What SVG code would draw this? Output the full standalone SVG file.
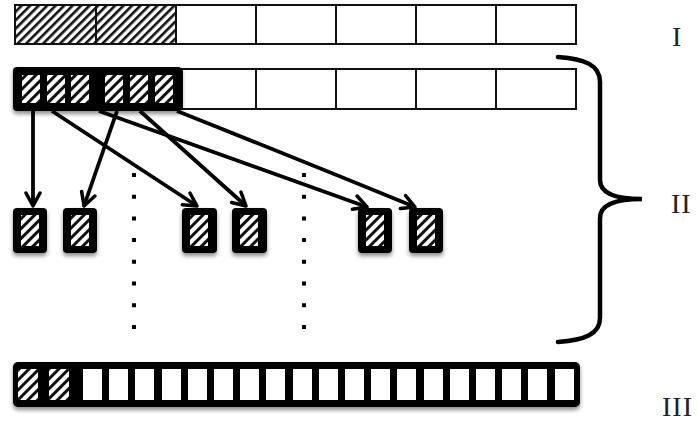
<svg xmlns="http://www.w3.org/2000/svg" width="698" height="423" viewBox="0 0 698 423">
  <defs>
    <!-- wide diagonal hatch for the large cells -->
    <pattern id="hatchWide" patternUnits="userSpaceOnUse" width="6" height="6" patternTransform="rotate(45)">
      <rect x="0" y="0" width="6" height="6" fill="#fff"/>
      <rect x="0" y="0" width="2.6" height="6" fill="#111"/>
    </pattern>
    <!-- coarser hatch for the small cells -->
    <pattern id="hatchSmall" patternUnits="userSpaceOnUse" width="7" height="7" patternTransform="rotate(45)">
      <rect x="0" y="0" width="7" height="7" fill="#fff"/>
      <rect x="0" y="0" width="3" height="7" fill="#111"/>
    </pattern>
    <filter id="shadow" x="-20%" y="-20%" width="140%" height="160%">
      <feDropShadow dx="0" dy="3" stdDeviation="2" flood-color="#000" flood-opacity="0.45"/>
    </filter>
    <marker id="head" viewBox="0 0 18 18" refX="15" refY="9" markerWidth="18" markerHeight="18" markerUnits="userSpaceOnUse" orient="auto">
      <path d="M2,2 L15,9 L2,16" fill="none" stroke="#000" stroke-width="3.5" stroke-linecap="round" stroke-linejoin="round"/>
    </marker>
    <style>
      .cell { fill: #fff; stroke: #111; stroke-width: 2; }
      .hw { fill: url(#hatchWide); stroke: #111; stroke-width: 2; }
      .blk { fill: #000; filter: url(#shadow); }
      .hs { fill: url(#hatchSmall); }
      .wh { fill: #fff; }
      .arrow { fill: none; stroke: #000; stroke-width: 3.8; marker-end: url(#head); }
      .dots { fill: none; stroke: #000; stroke-width: 4; stroke-dasharray: 4 17.7; }
      .brace { fill: none; stroke: #000; stroke-width: 4.5; stroke-linecap: round; }
      .lbl { font-family: "Liberation Serif", "Times New Roman", serif; font-size: 28px; fill: #222; letter-spacing: 1px; }
    </style>
  </defs>

  <!-- Row I: seven wide cells, first two hatched -->
  <g id="row1">
    <rect class="hw" x="15" y="5" width="81" height="39"/>
    <rect class="hw" x="96" y="5" width="80" height="39"/>
    <rect class="cell" x="176" y="5" width="80" height="39"/>
    <rect class="cell" x="256" y="5" width="80" height="39"/>
    <rect class="cell" x="336" y="5" width="80" height="39"/>
    <rect class="cell" x="416" y="5" width="80" height="39"/>
    <rect class="cell" x="496" y="5" width="80" height="39"/>
  </g>

  <!-- Row II: split block of six small cells followed by plain cells -->
  <g id="row2">
    <rect class="cell" x="182" y="69" width="74" height="40"/>
    <rect class="cell" x="256" y="69" width="80" height="40"/>
    <rect class="cell" x="336" y="69" width="80" height="40"/>
    <rect class="cell" x="416" y="69" width="80" height="40"/>
    <rect class="cell" x="496" y="69" width="80" height="40"/>
    <rect class="blk" x="13" y="67" width="169" height="44" rx="4"/>
    <rect class="hs" x="22" y="75" width="18" height="28"/>
    <rect class="hs" x="47" y="75" width="18" height="28"/>
    <rect class="hs" x="71" y="75" width="18" height="28"/>
    <rect class="hs" x="105" y="75" width="18" height="28"/>
    <rect class="hs" x="130" y="75" width="18" height="28"/>
    <rect class="hs" x="155" y="75" width="18" height="28"/>
  </g>

  <!-- Scattered small cells -->
  <g id="s1"><rect class="blk" x="13" y="208" width="34" height="45" rx="4"/><rect class="hs" x="21" y="215" width="18" height="31"/></g>
  <g id="s2"><rect class="blk" x="63" y="208" width="34" height="45" rx="4"/><rect class="hs" x="71" y="215" width="18" height="31"/></g>
  <g id="s3"><rect class="blk" x="182" y="208" width="35" height="45" rx="4"/><rect class="hs" x="190" y="215" width="18" height="31"/></g>
  <g id="s4"><rect class="blk" x="232" y="208" width="35" height="45" rx="4"/><rect class="hs" x="240" y="215" width="18" height="31"/></g>
  <g id="s5"><rect class="blk" x="358" y="208" width="34" height="45" rx="4"/><rect class="hs" x="366" y="215" width="18" height="31"/></g>
  <g id="s6"><rect class="blk" x="409" y="208" width="34" height="45" rx="4"/><rect class="hs" x="417" y="215" width="18" height="31"/></g>

  <!-- Row III: merged block with two hatched and nineteen plain slots -->
  <g id="row3">
    <rect class="blk" x="13" y="362" width="567" height="45" rx="5"/>
    <rect class="hs" x="18" y="369" width="20" height="31"/>
    <rect class="hs" x="49" y="369" width="20" height="31"/>
    <rect class="wh" x="83" y="369" width="19" height="31"/>
    <rect class="wh" x="109" y="369" width="19" height="31"/>
    <rect class="wh" x="135" y="369" width="19" height="31"/>
    <rect class="wh" x="162" y="369" width="19" height="31"/>
    <rect class="wh" x="188" y="369" width="19" height="31"/>
    <rect class="wh" x="214" y="369" width="19" height="31"/>
    <rect class="wh" x="240" y="369" width="19" height="31"/>
    <rect class="wh" x="266" y="369" width="19" height="31"/>
    <rect class="wh" x="293" y="369" width="19" height="31"/>
    <rect class="wh" x="319" y="369" width="19" height="31"/>
    <rect class="wh" x="345" y="369" width="19" height="31"/>
    <rect class="wh" x="371" y="369" width="19" height="31"/>
    <rect class="wh" x="397" y="369" width="19" height="31"/>
    <rect class="wh" x="424" y="369" width="19" height="31"/>
    <rect class="wh" x="450" y="369" width="19" height="31"/>
    <rect class="wh" x="476" y="369" width="19" height="31"/>
    <rect class="wh" x="502" y="369" width="19" height="31"/>
    <rect class="wh" x="528" y="369" width="19" height="31"/>
    <rect class="wh" x="555" y="369" width="19" height="31"/>
  </g>

  <!-- Connectors -->
  <g id="connectors">
    <path class="arrow" d="M33,111 L33,206"/>
    <path class="arrow" d="M117,111 L84,206"/>
    <path class="arrow" d="M52,111 L197,206"/>
    <path class="arrow" d="M140,111 L246,206"/>
    <path class="arrow" d="M99,111 Q225,156 367,207"/>
    <path class="arrow" d="M177,111 Q290,156 415,207"/>
  </g>

  <!-- Dotted separators -->
  <g id="dots">
    <path class="dots" d="M134,173 L134,332"/>
    <path class="dots" d="M304,173 L304,332"/>
  </g>

  <!-- Brace -->
  <path id="brace" class="brace" d="M558,57 C585,59 600,65 600,82 L600,180 C600,192 612,199 642,199 C612,199 600,206 600,218 L600,318 C600,334 585,340 558,342"/>

  <!-- Labels -->
  <g id="labels">
    <text class="lbl" x="672" y="46">I</text>
    <text class="lbl" x="671" y="213">II</text>
    <text class="lbl" x="662" y="416">III</text>
  </g>
</svg>
